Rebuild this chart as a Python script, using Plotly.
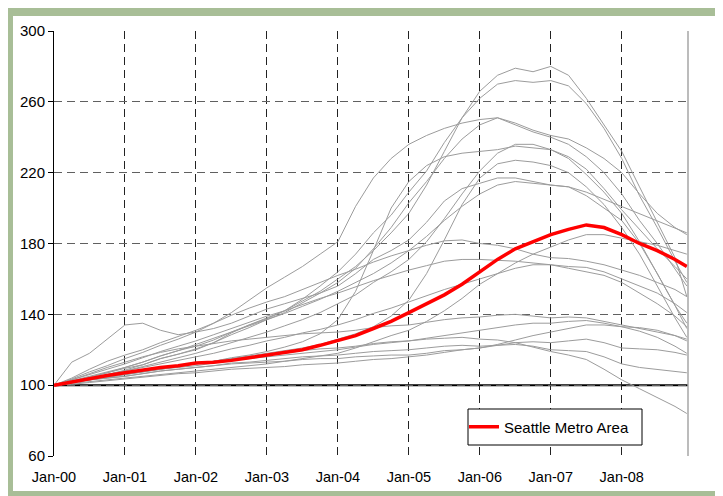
import plotly.graph_objects as go

# ---------------- data ----------------
MONTHS = [0, 3, 6, 9, 12, 15, 18, 21, 24, 27, 30, 33, 36, 39, 42, 45, 48, 51, 54, 57,
          60, 63, 66, 69, 72, 75, 78, 81, 84, 87, 90, 93, 96, 99, 102, 105, 107]
TICK_VALS = [0, 12, 24, 36, 48, 60, 72, 84, 96]
TICK_TEXT = ["Jan-00", "Jan-01", "Jan-02", "Jan-03", "Jan-04", "Jan-05", "Jan-06", "Jan-07", "Jan-08"]
Y_TICKS = [60, 100, 140, 180, 220, 260, 300]

miami = [100, 102, 104.5, 107, 110, 113, 116.5, 119.5, 122, 125.5, 130, 134, 138, 142, 147.5, 153,
         160, 167, 176, 186, 197, 213, 232, 251, 266, 275, 279, 277, 280, 275, 262, 247, 232, 212, 192, 172, 150]
los_angeles = [100, 102, 104.5, 107, 109.5, 111.5, 115, 117.5, 120, 124, 129.5, 134, 137.5, 142, 148.5, 156,
               164, 174, 186, 196, 209, 221, 237, 251, 262, 270, 272, 271, 272, 269, 259, 245, 228, 207, 189, 170, 158]
san_diego = [100, 103.5, 107.5, 111, 115, 118.5, 122.5, 126, 130, 135, 141, 148, 155, 161, 167, 174,
             181, 201, 217, 228, 236, 241, 245, 248, 250, 251, 247, 243, 240, 236, 229, 220, 208, 193, 180, 166, 156]
washington = [100, 101.5, 103.5, 106, 108.5, 111.5, 115, 117.5, 120.5, 124, 128.5, 132.5, 137, 141, 146.5, 152,
              158, 166, 177, 189, 203, 215, 228, 239, 247, 251, 248, 244, 241, 239, 234, 228, 220, 208, 197, 189, 185]
las_vegas = [100, 101.5, 103, 104.5, 106, 107.5, 109, 110.5, 112, 113.5, 115.5, 117, 119, 121.5, 124.5, 129,
             137, 153, 176, 200, 215, 224, 229, 231, 232, 233, 235, 234, 233, 228, 219, 209, 197, 181, 163, 145, 132]
phoenix = [100, 101.5, 103, 104.5, 106, 107.5, 109, 110.5, 112, 113.5, 115, 116.5, 118, 119.5, 121, 123,
           126, 129, 133, 139, 148, 163, 182, 202, 217, 225, 227, 226, 224, 220, 212, 202, 189, 174, 156, 138, 127]
tampa = [100, 102, 104, 106, 108, 110.5, 113, 115.5, 118, 121, 124, 127, 130, 133.5, 137, 141,
         146, 151, 158, 164, 171, 181, 194, 208, 221, 231, 236, 236, 233, 229, 222, 211, 199, 188, 177, 167, 160]
new_york = [100, 102.5, 105, 107.5, 110, 113, 116.5, 119.5, 123, 126.5, 130, 133.5, 137, 140.5, 144.5, 148.5,
            153, 158, 163, 169, 176, 184, 193, 201, 208, 213, 215, 214, 213, 212, 209, 205, 201, 197, 193, 189, 186]
san_francisco = [100, 113, 118, 126, 134, 135, 131, 128.5, 130, 132, 135, 139, 143, 146, 149, 152,
                 156, 163, 171, 176, 182, 192, 204, 211, 214, 217, 217, 215, 213, 212, 207, 200, 193, 180, 163, 145, 135]
boston = [100, 104, 109, 113.5, 117, 120, 124, 127.5, 131, 135, 139.5, 143.5, 147, 150, 154, 158,
          162, 165.5, 169.5, 173, 176, 179, 181.5, 182, 180, 179, 177, 174, 172, 171.5, 170, 168, 165, 162, 158, 154, 150]
chicago = [100, 102, 104, 106, 108, 110, 112, 114, 116, 118, 120.5, 122.5, 125, 127, 129.5, 131.5,
           134, 137, 140.5, 143.5, 147, 150.5, 154, 157, 160, 163, 166, 168, 168, 167, 166.5, 164, 160, 156, 152, 146, 141]
minneapolis = [100, 103, 106, 109, 112, 115.5, 119, 122, 125, 128.5, 132, 135.5, 139, 142, 145.5, 149,
               152, 155.5, 159, 162, 165, 167.5, 170, 171, 171, 170.5, 170, 169, 168, 166, 164, 162, 158, 152, 146, 139, 133]
portland = [100, 101, 102, 103, 104, 105, 106, 107, 108, 109, 110, 111, 112, 113.5, 115, 116.5,
            118, 121, 124.5, 128, 131, 136, 142, 149, 157, 163, 169, 174, 178, 182, 185, 185, 183, 181, 179, 176, 174]
denver = [100, 103, 106.5, 110, 113, 116, 118.5, 120.5, 122, 123.5, 125, 126, 127, 128, 129, 129.5,
          130, 131, 132.5, 133.5, 134, 135.5, 137, 138, 138.5, 139.5, 140, 139, 138, 138.5, 138, 136, 134, 132, 130, 128, 126]
atlanta = [100, 101.5, 103, 104.5, 106, 107.5, 109, 110, 111, 112.5, 114, 115, 116, 117, 118, 119,
           120, 121.5, 123, 124, 125, 126.5, 128, 129.5, 131, 132.5, 134, 135, 135, 136, 136.5, 135, 133, 130.5, 127, 122, 118]
charlotte = [100, 100.5, 101.5, 102.5, 103.5, 104.5, 105.5, 106.5, 107, 108, 109, 109.5, 110, 110.5, 111.5, 112,
             112.5, 113.5, 114.5, 115, 116, 117, 118.5, 120, 121, 123, 125.5, 128, 130, 132, 134, 134, 133, 132.5, 131, 128, 125]
dallas = [100, 101.5, 103, 104, 105, 106.5, 108, 109, 110, 111, 112, 112.5, 113, 113.5, 114.5, 115,
          115, 116, 116.5, 117, 117, 118, 119.5, 120, 121, 122.5, 124, 124.5, 124, 125, 126, 124, 121, 120.5, 120, 118.5, 117]
cleveland = [100, 101.5, 103, 104, 105, 106.5, 108, 109, 110, 111, 112.5, 113, 114, 115, 116, 116.5,
             117, 118, 119, 119.5, 120, 121, 122, 122.5, 122, 122.5, 123, 122, 120, 119.5, 119, 116, 112, 110, 109, 108, 107]
detroit = [100, 102, 104, 105.5, 107, 108.5, 110, 111, 112, 113.5, 115, 116, 117, 118, 119.5, 120.5,
           121, 122, 123.5, 124.5, 125, 126, 126.5, 127, 126, 125.5, 124, 121.5, 119, 117, 114.5, 109, 103, 98, 93, 88, 84]
seattle = [100, 102, 104, 105.5, 107, 108.5, 110, 111, 112.5, 113, 114, 115.5, 117, 118.5, 120, 122.5,
           125, 128, 132, 136, 141, 146, 151, 157, 164, 171, 177, 181, 185, 188, 190.5, 189, 185, 180, 176, 171, 167]

OTHER_CITIES = [
    ("Miami", miami), ("Los Angeles", los_angeles), ("San Diego", san_diego),
    ("Washington", washington), ("Las Vegas", las_vegas), ("Phoenix", phoenix),
    ("Tampa", tampa), ("New York", new_york), ("San Francisco", san_francisco),
    ("Boston", boston), ("Chicago", chicago), ("Minneapolis", minneapolis),
    ("Portland", portland), ("Denver", denver), ("Atlanta", atlanta),
    ("Charlotte", charlotte), ("Dallas", dallas), ("Cleveland", cleveland),
    ("Detroit", detroit),
]
SEATTLE_NAME = "Seattle Metro Area"

# ---------------- geometry ----------------
# The page body has an 8px default margin, so the figure is 8px smaller and
# everything is laid out in screenshot pixels, then converted.
OFF = 8
W, H = 723 - OFF, 496 - OFF
PLOT_L, PLOT_R, PLOT_T, PLOT_B = 54, 688, 31, 456   # screenshot pixels
PW, PH = PLOT_R - PLOT_L, PLOT_B - PLOT_T
L, T = PLOT_L - OFF, PLOT_T - OFF
R, B = 723 - PLOT_R, 496 - PLOT_B


def px(x):
    return (x - PLOT_L) / PW


def py(y):
    return (PLOT_B - y) / PH


fig = go.Figure()
for name, vals in OTHER_CITIES:
    fig.add_trace(go.Scatter(x=MONTHS, y=vals, mode="lines", name=name,
                             line=dict(color="#9C9C9C", width=1), showlegend=False))
fig.add_trace(go.Scatter(x=MONTHS, y=seattle, mode="lines", name=SEATTLE_NAME,
                         line=dict(color="#FF0000", width=3.5), showlegend=True))

green = "#A8BE97"
shapes = [
    # outer green frame
    dict(type="rect", xref="paper", yref="paper", x0=px(3), x1=px(13), y0=py(496), y1=py(6),
         fillcolor=green, line_width=0, layer="above"),
    dict(type="rect", xref="paper", yref="paper", x0=px(3), x1=px(722), y0=py(16), y1=py(6),
         fillcolor=green, line_width=0, layer="above"),
    dict(type="rect", xref="paper", yref="paper", x0=px(717), x1=px(722), y0=py(496), y1=py(6),
         fillcolor=green, line_width=0, layer="above"),
    dict(type="rect", xref="paper", yref="paper", x0=px(3), x1=px(722), y0=py(496), y1=py(491),
         fillcolor=green, line_width=0, layer="above"),
    # right border of plot area
    dict(type="line", xref="paper", yref="paper", x0=1, x1=1, y0=0, y1=1,
         line=dict(color="#A6A6A6", width=1.5)),
    # horizontal axis crossing at 100
    dict(type="line", xref="paper", yref="y", x0=0, x1=1, y0=100, y1=100,
         line=dict(color="#000000", width=2), layer="below"),
    # legend box
    dict(type="rect", xref="paper", yref="paper", x0=px(468), x1=px(642), y0=py(445), y1=py(409),
         fillcolor="white", line=dict(color="#000000", width=1), layer="above"),
]

fig.update_layout(
    width=W, height=H,
    margin=dict(l=L, r=R, t=T, b=B, pad=0),
    paper_bgcolor="white", plot_bgcolor="white",
    font=dict(family="Liberation Sans, Arial, sans-serif", size=15, color="#000000"),
    shapes=shapes,
    showlegend=True,
    legend=dict(x=px(464), y=py(427), xanchor="left", yanchor="middle",
                bgcolor="rgba(0,0,0,0)", borderwidth=0,
                font=dict(size=15, color="#000000")),
)
fig.update_xaxes(range=[0, 107.2], tickmode="array", tickvals=TICK_VALS, ticktext=TICK_TEXT,
                 showgrid=True, gridcolor="#222222", gridwidth=1, griddash="8px,5px",
                 zeroline=False, showline=False, ticks="", ticklabelstandoff=10,
                 tickfont=dict(size=14.5))
fig.update_yaxes(range=[60, 300], tickmode="array", tickvals=Y_TICKS,
                 showgrid=True, gridcolor="#606060", gridwidth=1, griddash="8px,5px",
                 zeroline=False, showline=True, linecolor="#000000", linewidth=1,
                 ticks="outside", ticklen=5, tickcolor="#000000", tickwidth=1,
                 tickfont=dict(size=15))

fig.write_html("out.html")
